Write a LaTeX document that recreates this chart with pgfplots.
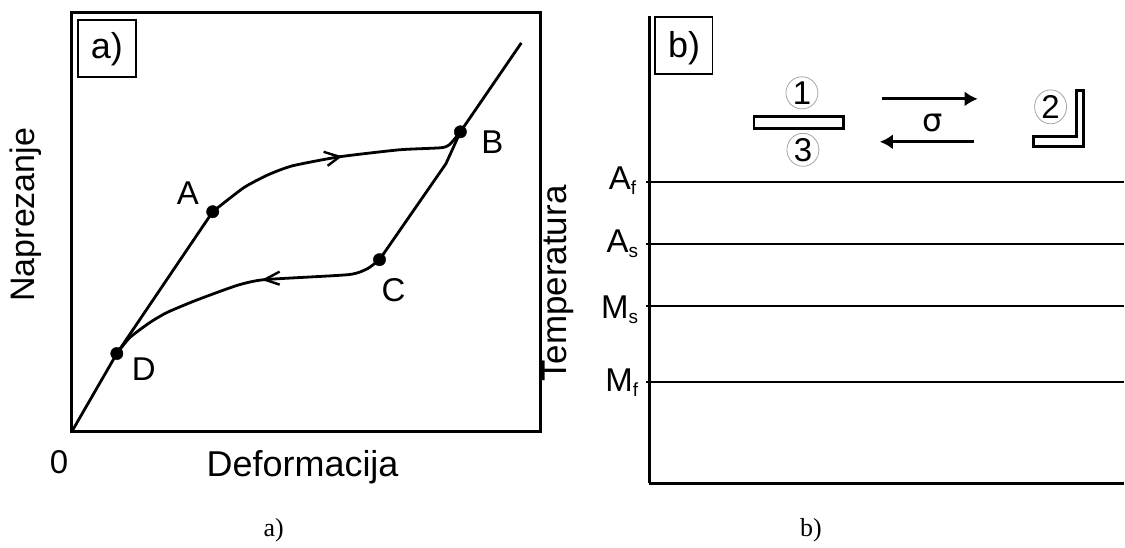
\documentclass[border=0pt]{standalone}
\usepackage{fontspec}
\setmainfont{Liberation Sans}
\newfontfamily\capfont{Liberation Serif}
\usepackage{pgfplots}
\pgfplotsset{compat=1.18}
\usetikzlibrary{arrows.meta,shapes.geometric}
\newcommand{\fs}[1]{\fontsize{#1}{#1}\selectfont}
\newcommand{\sub}[1]{\raisebox{-5pt}{\fs{19}#1}}
\begin{document}
\begin{tikzpicture}[x=1pt,y=1pt]
\path[fill=white] (0,0) rectangle (1125,548);
% ---- panel a
\begin{axis}[at={(72pt,116pt)},anchor=origin,scale only axis,width=469pt,height=419pt,
  xmin=0,xmax=469,ymin=0,ymax=419,clip=false,
  axis line style={line width=3pt},
  xtick={0},xticklabels={0},ytick=\empty,
  major tick length=0pt,
  xticklabel style={font=\fs{33},xshift=-13pt,yshift=-16pt},
  xlabel={Deformacija},ylabel={Naprezanje},
  every axis x label/.style={at={(axis cs:231,-36)},anchor=center,font=\fs{36}},
  every axis y label/.style={at={(axis cs:-46,217)},anchor=center,rotate=90,font=\fs{34}}]
\addplot[line width=2.8pt,black] coordinates {(0,0) (45,78) (141,220)};
\addplot[line width=2.8pt,black] coordinates {(389,300) (450,389)};
\addplot[line width=2.8pt,black,smooth,tension=0.35] coordinates {(141,220) (172,244) (196.5,257) (221,266) (268,275) (328,282) (369,284) (378,287) (389,300)};
\addplot[line width=2.8pt,black] coordinates {(389,300) (374.5,268) (308,172)};
\addplot[line width=2.8pt,black,smooth,tension=0.35] coordinates {(308,172) (296,163) (277,157) (193,152) (168,147) (145,139) (121,130) (95,119) (78,109) (58,94) (45,78)};
\addplot[line width=2.4pt,black] coordinates {(252,280) (268,275) (256,266)};
\addplot[line width=2.4pt,black] coordinates {(208,160) (193,152) (208,147)};
\addplot[only marks,mark=*,mark size=6.2pt,black] coordinates {(45,78) (141,220) (389,300) (308,172)};
\node[font=\fs{33}] at (axis cs:116,239) {A};
\node[font=\fs{33}] at (axis cs:421,290) {B};
\node[font=\fs{33}] at (axis cs:322,141) {C};
\node[font=\fs{33}] at (axis cs:72,62) {D};
\draw[line width=1.6pt] (axis cs:6,355) rectangle (axis cs:64,412);
\node[font=\fs{36}] at (axis cs:35,383) {a)};
\end{axis}
% ---- panel b
\begin{axis}[at={(650pt,64pt)},anchor=origin,scale only axis,width=475pt,height=468pt,
  xmin=0,xmax=475,ymin=0,ymax=468,clip=false,
  axis x line=bottom,axis y line=left,
  axis line style={line width=3pt,-},
  xtick=\empty,ytick={101,178,240,302},
  yticklabels={\raisebox{-9pt}{M\sub{f}},\raisebox{-13pt}{M\sub{s}},\raisebox{-9pt}{A\sub{s}},\raisebox{-8pt}{A\sub{f}\hspace{2pt}}},
  major tick length=7pt,
  y tick style={line width=2pt,black},
  yticklabel style={font=\fs{33},anchor=base east,xshift=-4pt,yshift=0pt},
  ylabel={Temperatura},
  every axis y label/.style={at={(axis cs:-91,200)},anchor=center,rotate=90,font=\fs{35}}]
\addplot[line width=2pt,black] coordinates {(0,101) (475,101)};
\addplot[line width=2pt,black] coordinates {(0,178) (475,178)};
\addplot[line width=2pt,black] coordinates {(0,240) (475,240)};
\addplot[line width=2pt,black] coordinates {(0,302) (475,302)};
\addplot[line width=3.2pt,black,-{Latex[length=13pt,width=15pt]}] coordinates {(233,385) (329,385)};
\addplot[line width=3.2pt,black,-{Latex[length=13pt,width=15pt]}] coordinates {(325,342) (231,342)};
\draw[line width=1.6pt] (axis cs:6,410) rectangle (axis cs:63.5,467);
\node[font=\fs{36}] at (axis cs:35,436) {b)};
\draw[line width=2.8pt] (axis cs:105,355) rectangle (axis cs:195,367);
\draw[line width=2.8pt] (axis cs:385,337) -- (axis cs:435,337) -- (axis cs:435,393) -- (axis cs:428,393) -- (axis cs:428,347) -- (axis cs:385,347) -- cycle;
\node[draw=black!35,line width=0.8pt,ellipse,inner sep=0pt,minimum width=32pt,minimum height=30pt,font=\fs{33}] at (axis cs:153,391) {1};
\node[draw=black!35,line width=0.8pt,ellipse,inner sep=0pt,minimum width=32pt,minimum height=30pt,font=\fs{33}] at (axis cs:154,334) {3};
\node[draw=black!35,line width=0.8pt,ellipse,inner sep=0pt,minimum width=32pt,minimum height=34pt,font=\fs{33}] at (axis cs:402,377) {2};
\node at (axis cs:284,361) {\fontspec{DejaVu Sans}\fs{32}σ};
\end{axis}
\node[font=\capfont\fs{26}] at (274,17) {a)};
\node[font=\capfont\fs{26}] at (812,17) {b)};
\end{tikzpicture}
\end{document}
